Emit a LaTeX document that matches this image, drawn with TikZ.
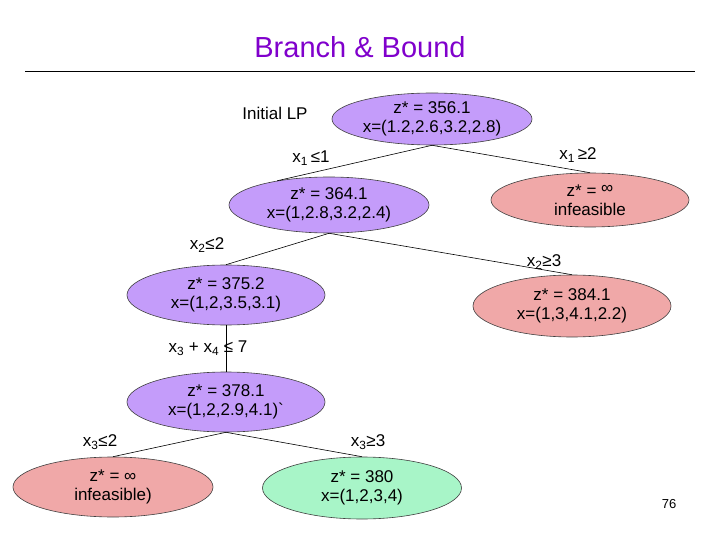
\documentclass[tikz,border=0pt]{standalone}
\usepackage{fontspec}
\setmainfont{Liberation Sans}
\usepackage{xcolor}
\usetikzlibrary{shapes.geometric}

\definecolor{titlepurple}{RGB}{128,0,204}
\definecolor{lpfill}{RGB}{196,156,250}
\definecolor{badfill}{RGB}{240,168,168}
\definecolor{bestfill}{RGB}{168,245,200}

\begin{document}
\begin{tikzpicture}[x=1pt,y=-1pt,
  lp/.style={ellipse, draw=black!75, line width=0.6pt, inner sep=0pt,
    minimum width=200pt, minimum height=56pt, align=center,
    font=\fontsize{17}{19}\selectfont},
  purplelp/.style={lp, fill=lpfill},
  redlp/.style={lp, fill=badfill},
  greenlp/.style={lp, fill=bestfill},
  cut/.style={font=\fontsize{17}{21}\selectfont},
  branch/.style={draw=black, line width=0.6pt}]

\useasboundingbox (0,0) rectangle (720,540);
\fill [white] (0,0) rectangle (720,540);

% title
\node (title) at (360,47) [text=titlepurple, font=\fontsize{29}{34}\selectfont] {Branch \& Bound};
\draw [line width=0.8pt] (25,71) -- (695,71);

\node (initial) at (275,113) [cut] {Initial LP};

\node (root) at (432,119) [purplelp, minimum height=52pt] {z* = 356.1\\x=(1.2,2.6,3.2,2.8)};
\node (n1) at (329,205) [purplelp] {z* = 364.1\\x=(1,2.8,3.2,2.4)};
\node (n2) at (590,200) [redlp, minimum width=198pt, minimum height=54pt] {z* = \raisebox{0.35ex}{∞}\\infeasible};
\node (n3) at (226,295) [purplelp, minimum width=198pt, minimum height=60pt] {z* = 375.2\\x=(1,2,3.5,3.1)};
\node (n4) at (572,306) [redlp, minimum width=198pt, minimum height=62pt] {z* = 384.1\\x=(1,3,4.1,2.2)};
\node (n5) at (226,402) [purplelp, minimum width=198pt, minimum height=60pt] {z* = 378.1\\x=(1,2,2.9,4.1)\textasciigrave};
\node (n6) at (113,487) [redlp, minimum height=60pt] {z* = ∞\\infeasible)};
\node (n7) at (362,488) [greenlp, minimum width=199pt, minimum height=62pt] {z* = 380\\x=(1,2,3,4)};

\draw [branch] (root.south) -- (n1.155);
\draw [branch] (root.south) -- (n2.north);
\draw [branch] (n1.south) -- (n3.north);
\draw [branch] (n1.south) -- (n4.north);
\draw [branch] (n3.south) -- (n5.north);
\draw [branch] (n5.south) -- (n6.north);
\draw [branch] (n5.south) -- (n7.north);

\node (c1) at (311,158) [cut] {x\textsubscript{1}\,≤1};
\node (c2) at (578,155) [cut] {x\textsubscript{1}\,≥2};
\node (c3) at (207,245) [cut] {x\textsubscript{2}≤2};
\node (c4) at (544,262) [cut] {x\textsubscript{2}≥3};
\node (c5) at (208,348) [cut] {x\textsubscript{3} + x\textsubscript{4} ≤ 7};
\node (c6) at (100,442) [cut] {x\textsubscript{3}≤2};
\node (c7) at (368,442) [cut] {x\textsubscript{3}≥3};

\node (page) at (669,504) [font=\fontsize{13}{15}\selectfont] {76};

\end{tikzpicture}
\end{document}
